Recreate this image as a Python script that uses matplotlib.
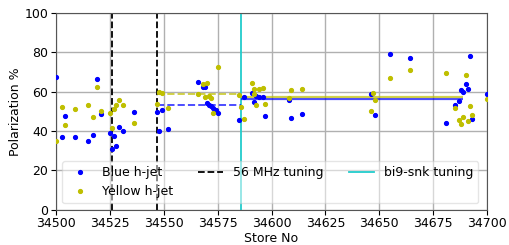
import matplotlib
matplotlib.use("Agg")
import matplotlib.pyplot as plt
import numpy as np

# h-jet polarization per store
blue_store = np.array([34500, 34519, 34504, 34503, 34509, 34515, 34517, 34521, 34525, 34527,
                       34526, 34528, 34529, 34531, 34536, 34547, 34548, 34549, 34552,
                       34566, 34568, 34569, 34570, 34571, 34572, 34573, 34574, 34575, 34585, 34587,
                       34591, 34593, 34594, 34596, 34592, 34597, 34608, 34609, 34614,
                       34646, 34648, 34655, 34664,
                       34681, 34685, 34687, 34688, 34689, 34690, 34691, 34692, 34693, 34700])
blue_pol = np.array([67.5, 66.3, 47.7, 37.1, 37.1, 34.7, 37.8, 48.7, 38.8, 37.4,
                     30.7, 32.5, 42.0, 40.1, 49.4, 49.4, 40.0, 50.6, 41.1,
                     64.7, 62.1, 62.1, 54.0, 53.1, 52.6, 51.8, 50.6, 48.9, 45.5, 57.1,
                     59.1, 57.9, 57.1, 57.2, 54.5, 47.6, 55.8, 46.4, 48.6,
                     58.6, 48.1, 79.0, 76.9,
                     43.9, 53.1, 55.3, 60.8, 59.9, 64.0, 61.4, 78.2, 45.9, 58.6])

yellow_store = np.array([34500, 34503, 34504, 34509, 34515, 34517, 34519, 34521, 34525, 34526,
                         34527, 34528, 34529, 34531, 34536, 34547, 34548, 34549, 34552,
                         34566, 34568, 34570, 34569, 34571, 34572, 34573, 34575, 34585, 34586, 34587,
                         34591, 34592, 34594, 34596, 34592, 34593, 34597, 34609, 34614, 34608,
                         34646, 34647, 34648, 34655, 34664,
                         34681, 34690, 34692, 34685, 34693, 34689, 34687, 34691, 34688, 34700])
yellow_pol = np.array([34.9, 52.1, 43.1, 51.1, 53.1, 46.9, 62.4, 50.3, 49.2, 41.5,
                       51.0, 53.1, 55.7, 53.0, 44.0, 53.8, 59.6, 59.1, 51.6,
                       58.7, 63.8, 64.3, 57.4, 57.9, 56.7, 48.9, 72.6, 58.2, 52.0, 45.9,
                       64.5, 61.1, 61.1, 61.6, 58.7, 53.3, 53.7, 60.6, 61.1, 56.7,
                       50.1, 59.4, 55.7, 66.9, 70.8,
                       69.2, 68.2, 52.8, 51.6, 47.9, 46.9, 45.5, 45.0, 43.4, 56.0])

tuning_56mhz = [34526, 34547]
tuning_bi9 = 34586

# average levels: (start, end, blue, yellow)
avg_before = (34547, 34586, 53.0, 58.5)
avg_after = (34586, 34689, 56.3, 57.2)

fig = plt.figure(figsize=(5.09, 2.45), dpi=100)
ax = fig.add_axes([0.110, 0.144, 0.847, 0.804])

ax.plot(blue_store, blue_pol, '.', color='b', ms=5.5, label='Blue h-jet', zorder=3)
ax.plot(yellow_store, yellow_pol, '.', color='y', ms=5.5, label='Yellow h-jet', zorder=3)

for i, xv in enumerate(tuning_56mhz):
    ax.axvline(xv, color='k', ls='--', lw=1.3, label='56 MHz tuning' if i == 0 else None)
ax.axvline(tuning_bi9, color='#22cccc', lw=1.3, label='bi9-snk tuning')

ax.hlines(avg_before[2], avg_before[0], avg_before[1], colors='b', linestyles='--', lw=1.4, alpha=0.7)
ax.hlines(avg_before[3], avg_before[0], avg_before[1], colors='y', linestyles='--', lw=1.4, alpha=0.7)
ax.hlines(avg_after[2], avg_after[0], avg_after[1], colors='b', lw=1.6, alpha=0.7)
ax.hlines(avg_after[3], avg_after[0], avg_after[1], colors='y', lw=1.6, alpha=0.7)

ax.set_xlim(34500, 34700)
ax.set_ylim(0, 100)
ax.set_xticks(np.arange(34500, 34701, 25))
ax.set_yticks(np.arange(0, 101, 20))
ax.tick_params(labelsize=9, pad=2)
ax.grid(True, color='#b0b0b0', lw=1)
for s in ax.spines.values():
    s.set_color('#555555')

ax.set_xlabel('Store No', fontsize=9, labelpad=1)
ax.set_ylabel('Polarization %', fontsize=9, labelpad=2)
ax.legend(loc='lower left', ncol=3, fontsize=9, framealpha=0.5)

fig.savefig('out.png', dpi=100)
